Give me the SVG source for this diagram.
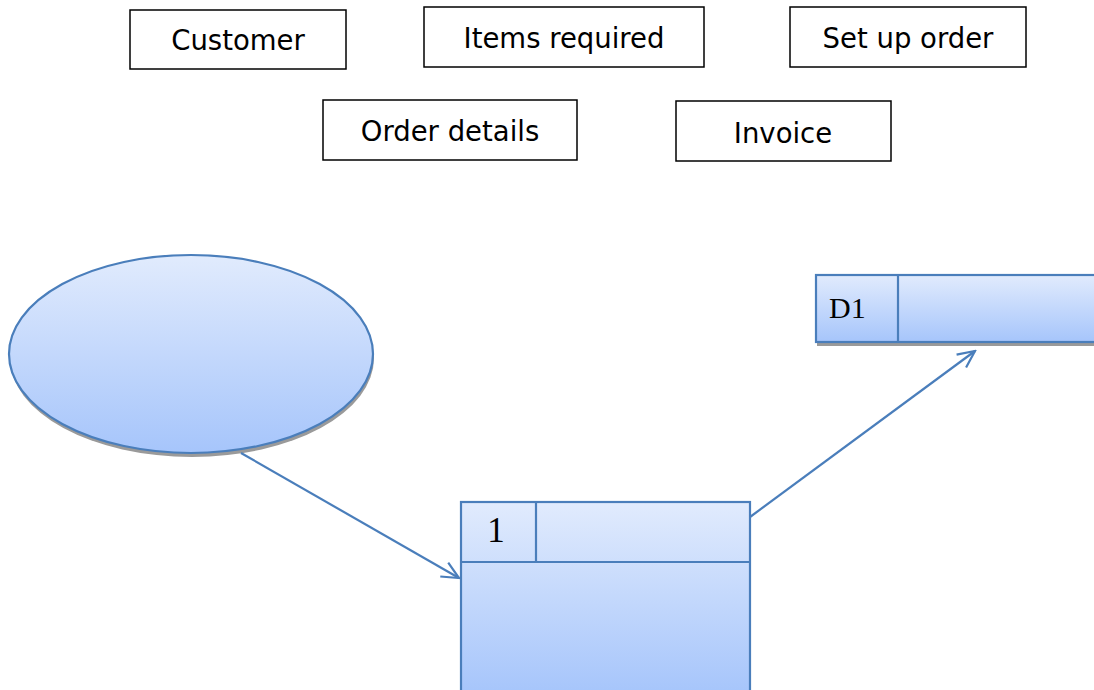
<svg xmlns="http://www.w3.org/2000/svg" width="1094" height="690" viewBox="0 0 1094 690">
<defs>
<linearGradient id="g" x1="0" y1="0" x2="0" y2="1">
<stop offset="0" stop-color="#e1ebfd"/>
<stop offset="1" stop-color="#a6c5fb"/>
</linearGradient>
<marker id="arr" viewBox="0 0 20 20" refX="18" refY="10" markerWidth="20" markerHeight="20" markerUnits="userSpaceOnUse" orient="auto">
<path d="M1,2 L18,10 L1,18" fill="none" stroke="#4a7ebb" stroke-width="2.2"/>
</marker>
<style>
.lbl{fill:#fff;stroke:#000;stroke-width:1.5}
.lt{font-family:"DejaVu Sans",Verdana,sans-serif;font-size:27.5px;fill:#000;text-anchor:middle}
.shape{fill:url(#g);stroke:#4a7ebb;stroke-width:2.2}
.sh{fill:#9a9a9a}
.num{font-family:"Liberation Serif","Times New Roman",serif;fill:#000}
.conn{fill:none;stroke:#4a7ebb;stroke-width:2.2}
</style>
</defs>
<g id="customer"><rect class="lbl" x="130" y="10" width="216" height="59"/><text class="lt" x="238" y="50">Customer</text></g>
<g id="items-required"><rect class="lbl" x="424" y="7" width="280" height="60"/><text class="lt" x="564" y="48">Items required</text></g>
<g id="set-up-order"><rect class="lbl" x="790" y="7" width="236" height="60"/><text class="lt" x="908" y="48">Set up order</text></g>
<g id="order-details"><rect class="lbl" x="323" y="100" width="254" height="60"/><text class="lt" x="450" y="141">Order details</text></g>
<g id="invoice"><rect class="lbl" x="676" y="101" width="215" height="60"/><text class="lt" x="783" y="143">Invoice</text></g>
<g id="entity">
<ellipse class="sh" cx="192" cy="358" rx="182" ry="99"/>
<ellipse class="shape" cx="191" cy="354" rx="182" ry="99"/>
</g>
<g id="store-d1">
<rect class="sh" x="817" y="276" width="280" height="70"/>
<rect class="shape" x="816" y="275" width="282" height="67"/>
<line x1="898" y1="275" x2="898" y2="342" stroke="#4a7ebb" stroke-width="2.2"/>
<text class="num" x="829" y="318" font-size="30">D1</text>
</g>
<g id="process-1">
<rect class="shape" x="461" y="502" width="289" height="192"/>
<line x1="461" y1="562" x2="750" y2="562" stroke="#4a7ebb" stroke-width="2.2"/>
<line x1="536" y1="502" x2="536" y2="562" stroke="#4a7ebb" stroke-width="2.2"/>
<text class="num" x="496" y="542" font-size="35" text-anchor="middle">1</text>
</g>
<g id="connectors">
<line class="conn" x1="241" y1="453" x2="459" y2="578" marker-end="url(#arr)"/>
<line class="conn" x1="750" y1="517" x2="975" y2="351" marker-end="url(#arr)"/>
</g>
</svg>
